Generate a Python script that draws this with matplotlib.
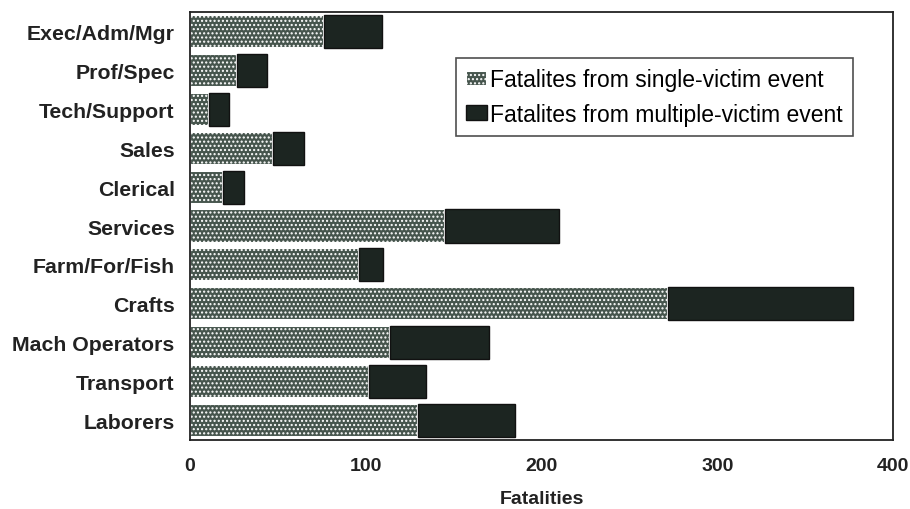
"""Fatalities by occupation: single- vs multiple-victim events"""
import numpy as np
import matplotlib
matplotlib.use('Agg')
import matplotlib.pyplot as plt

plt.rcParams['font.family'] = ['Liberation Sans', 'DejaVu Sans']
plt.rcParams['hatch.color'] = '#8a968f'
plt.rcParams['hatch.linewidth'] = 1.0

occupations = ["Exec/Adm/Mgr", "Prof/Spec", "Tech/Support", "Sales", "Clerical",
               "Services", "Farm/For/Fish", "Crafts", "Mach Operators",
               "Transport", "Laborers"]
single_victim = [76, 27, 11, 47, 19, 145, 96, 272, 114, 102, 130]
multiple_victim = [33, 17, 11, 18, 12, 65, 14, 105, 56, 32, 55]

fig = plt.figure(figsize=(9.1, 5.1), dpi=100)
ax = fig.add_axes([0.2088, 0.1353, 0.7725, 0.8392])

y = np.arange(len(occupations))
ax.barh(y, single_victim, height=0.85, color='#46554d', edgecolor='white',
        linewidth=1.5, hatch='....', label='Fatalites from single-victim event')
ax.barh(y, multiple_victim, left=single_victim, height=0.85, color='#1c2521',
        edgecolor='#111111', linewidth=1, label='Fatalites from multiple-victim event')

ax.set_yticks(y)
ax.set_yticklabels(occupations, fontsize=15.3, fontweight='bold', color='#222222')
ax.set_ylim(len(occupations) - 0.5, -0.5)
ax.set_xlim(0, 400)
ax.set_xticks([0, 100, 200, 300, 400])
ax.set_xticklabels(['0', '100', '200', '300', '400'], fontsize=14,
                   fontweight='bold', color='#222222')
ax.tick_params(length=0)
ax.tick_params(axis='y', pad=11)
ax.tick_params(axis='x', pad=12)
ax.set_xlabel('Fatalities', fontsize=14, fontweight='bold', labelpad=12,
              color='#222222')
for s in ax.spines.values():
    s.set_linewidth(1.3)
    s.set_color('#222222')

leg = ax.legend(loc='upper right', bbox_to_anchor=(0.943, 0.8925), borderaxespad=0,
                fontsize=16.5, frameon=True, fancybox=False, edgecolor='#222222',
                handlelength=0.9, handleheight=0.65, handletextpad=0.15,
                borderpad=0.45, labelspacing=0.5)
leg.get_frame().set_linewidth(1.2)

fig.savefig('out.png', dpi=100)
